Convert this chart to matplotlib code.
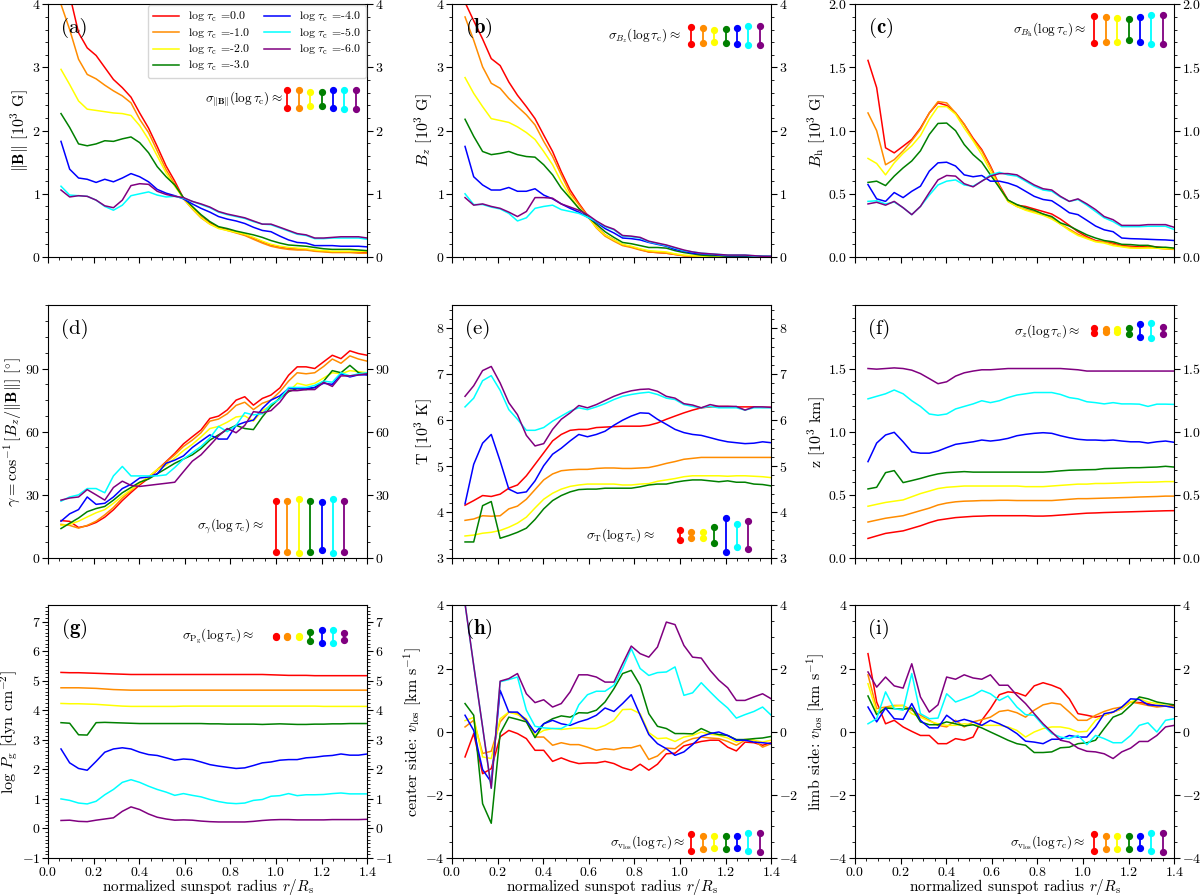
import matplotlib
matplotlib.use('Agg')
import matplotlib.pyplot as plt
from matplotlib.ticker import MultipleLocator

plt.rcParams['font.family'] = 'serif'
plt.rcParams['font.serif'] = ['cmr10', 'DejaVu Serif']
plt.rcParams['mathtext.fontset'] = 'cm'
plt.rcParams['axes.formatter.use_mathtext'] = True

# radial grid (normalized sunspot radius)
r = [0.057, 0.095, 0.134, 0.172, 0.211, 0.249, 0.287, 0.326, 0.364, 0.402,
     0.441, 0.479, 0.518, 0.556, 0.594, 0.633, 0.671, 0.710, 0.748, 0.786,
     0.825, 0.863, 0.901, 0.940, 0.978, 1.017, 1.055, 1.093, 1.132, 1.170,
     1.209, 1.247, 1.285, 1.324, 1.362, 1.400]

log_tau = ['0.0', '-1.0', '-2.0', '-3.0', '-4.0', '-5.0', '-6.0']
colors = ['red', 'darkorange', 'yellow', 'green', 'blue', 'cyan', 'purple']

# (a) |B| [10^3 G], one row per log tau
B_tot = [
    [4.9, 4.15, 3.55, 3.31, 3.19, 3.0, 2.81, 2.68, 2.53, 2.28, 2.04, 1.75, 1.44, 1.2, 0.93, 0.78, 0.64, 0.54,
     0.47, 0.43, 0.39, 0.35, 0.30, 0.24, 0.19, 0.16, 0.14, 0.13, 0.12, 0.10, 0.09, 0.08, 0.08, 0.08, 0.08, 0.07],
    [4.0, 3.6, 3.13, 2.89, 2.82, 2.72, 2.63, 2.55, 2.44, 2.18, 1.97, 1.68, 1.38, 1.15, 0.92, 0.76, 0.62, 0.52,
     0.46, 0.42, 0.38, 0.34, 0.28, 0.22, 0.17, 0.14, 0.12, 0.11, 0.11, 0.09, 0.08, 0.07, 0.07, 0.07, 0.06, 0.06],
    [2.97, 2.73, 2.47, 2.34, 2.32, 2.30, 2.28, 2.27, 2.24, 2.08, 1.86, 1.60, 1.33, 1.12, 0.93, 0.77, 0.63, 0.52,
     0.45, 0.42, 0.39, 0.36, 0.31, 0.25, 0.20, 0.17, 0.15, 0.14, 0.13, 0.11, 0.10, 0.09, 0.09, 0.09, 0.09, 0.09],
    [2.27, 2.05, 1.79, 1.76, 1.79, 1.84, 1.83, 1.87, 1.90, 1.81, 1.65, 1.43, 1.27, 1.14, 0.94, 0.80, 0.67, 0.56,
     0.48, 0.45, 0.41, 0.38, 0.35, 0.31, 0.26, 0.22, 0.19, 0.18, 0.17, 0.15, 0.13, 0.12, 0.12, 0.12, 0.11, 0.10],
    [1.83, 1.39, 1.25, 1.23, 1.18, 1.23, 1.19, 1.25, 1.32, 1.27, 1.19, 1.07, 1.01, 0.97, 0.92, 0.84, 0.77, 0.71,
     0.64, 0.60, 0.57, 0.53, 0.47, 0.42, 0.40, 0.33, 0.27, 0.23, 0.22, 0.18, 0.18, 0.18, 0.17, 0.17, 0.17, 0.16],
    [1.12, 0.98, 0.97, 0.96, 0.90, 0.80, 0.74, 0.82, 0.97, 1.00, 1.03, 0.98, 0.95, 0.96, 0.93, 0.88, 0.83, 0.78,
     0.71, 0.67, 0.64, 0.61, 0.56, 0.52, 0.51, 0.46, 0.41, 0.36, 0.34, 0.29, 0.29, 0.30, 0.30, 0.30, 0.30, 0.28],
    [1.06, 0.95, 0.97, 0.96, 0.90, 0.81, 0.78, 0.90, 1.13, 1.16, 1.15, 1.04, 0.99, 0.96, 0.94, 0.88, 0.84, 0.79,
     0.72, 0.68, 0.65, 0.62, 0.57, 0.52, 0.52, 0.47, 0.42, 0.37, 0.35, 0.30, 0.30, 0.31, 0.32, 0.32, 0.32, 0.30],
]

# (b) Bz [10^3 G]
B_z = [
    [4.03, 3.74, 3.45, 3.14, 3.03, 2.77, 2.56, 2.38, 2.19, 1.93, 1.67, 1.35, 1.06, 0.85, 0.66, 0.48, 0.35, 0.27,
     0.19, 0.16, 0.12, 0.08, 0.07, 0.06, 0.04, 0.02, 0.015, 0.01, 0.01, 0.01, 0.01, 0.005, 0.005, 0.005, 0.005, 0.005],
    [3.8, 3.43, 3.01, 2.75, 2.67, 2.51, 2.38, 2.25, 2.09, 1.83, 1.59, 1.30, 1.01, 0.83, 0.65, 0.46, 0.33, 0.25,
     0.18, 0.15, 0.11, 0.08, 0.07, 0.06, 0.04, 0.02, 0.01, 0.01, 0.01, 0.01, 0.01, 0.01, 0.005, 0.005, 0.005, 0.005],
    [2.84, 2.59, 2.38, 2.19, 2.16, 2.13, 2.06, 1.97, 1.86, 1.67, 1.46, 1.19, 0.96, 0.77, 0.64, 0.47, 0.35, 0.27,
     0.20, 0.17, 0.13, 0.10, 0.09, 0.08, 0.05, 0.03, 0.02, 0.01, 0.01, 0.01, 0.01, 0.01, 0.01, 0.005, 0.005, 0.005],
    [2.18, 1.91, 1.67, 1.62, 1.64, 1.67, 1.62, 1.59, 1.58, 1.46, 1.30, 1.09, 0.93, 0.77, 0.64, 0.52, 0.40, 0.31,
     0.23, 0.21, 0.18, 0.15, 0.15, 0.14, 0.10, 0.07, 0.05, 0.03, 0.02, 0.02, 0.01, 0.01, 0.01, 0.01, 0.01, 0.005],
    [1.75, 1.27, 1.14, 1.06, 1.06, 1.10, 1.04, 1.04, 1.08, 0.98, 0.92, 0.84, 0.77, 0.71, 0.63, 0.55, 0.45, 0.38,
     0.30, 0.29, 0.27, 0.23, 0.20, 0.17, 0.12, 0.09, 0.06, 0.05, 0.04, 0.03, 0.02, 0.02, 0.02, 0.02, 0.01, 0.01],
    [1.0, 0.83, 0.83, 0.79, 0.76, 0.69, 0.57, 0.62, 0.77, 0.80, 0.82, 0.75, 0.72, 0.69, 0.63, 0.56, 0.48, 0.43,
     0.33, 0.32, 0.30, 0.24, 0.21, 0.18, 0.14, 0.10, 0.08, 0.06, 0.05, 0.04, 0.03, 0.03, 0.03, 0.015, 0.01, 0.01],
    [0.94, 0.82, 0.84, 0.80, 0.77, 0.71, 0.64, 0.72, 0.94, 0.94, 0.93, 0.84, 0.79, 0.74, 0.67, 0.57, 0.49, 0.44,
     0.34, 0.33, 0.31, 0.25, 0.22, 0.19, 0.15, 0.11, 0.08, 0.06, 0.05, 0.04, 0.03, 0.03, 0.03, 0.02, 0.01, 0.01],
]

# (c) Bh [10^3 G]
B_h = [
    [1.556, 1.34, 0.864, 0.824, 0.877, 0.93, 1.02, 1.14, 1.22, 1.20, 1.14, 1.05, 0.94, 0.85, 0.72, 0.57, 0.45, 0.41,
     0.40, 0.38, 0.36, 0.34, 0.30, 0.25, 0.20, 0.16, 0.13, 0.12, 0.11, 0.09, 0.085, 0.08, 0.085, 0.08, 0.07, 0.066],
    [1.14, 1.0, 0.73, 0.77, 0.84, 0.92, 1.01, 1.14, 1.23, 1.22, 1.14, 1.05, 0.93, 0.84, 0.71, 0.56, 0.44, 0.40,
     0.375, 0.36, 0.34, 0.31, 0.26, 0.22, 0.18, 0.15, 0.125, 0.12, 0.10, 0.085, 0.077, 0.07, 0.077, 0.07, 0.063, 0.06],
    [0.78, 0.74, 0.65, 0.745, 0.82, 0.88, 0.96, 1.09, 1.19, 1.19, 1.13, 1.02, 0.92, 0.81, 0.68, 0.55, 0.44, 0.40,
     0.37, 0.35, 0.33, 0.30, 0.26, 0.21, 0.17, 0.145, 0.12, 0.11, 0.09, 0.08, 0.07, 0.07, 0.07, 0.07, 0.065, 0.065],
    [0.59, 0.60, 0.565, 0.64, 0.705, 0.76, 0.84, 0.97, 1.057, 1.06, 1.0, 0.89, 0.81, 0.75, 0.65, 0.55, 0.45, 0.415,
     0.39, 0.37, 0.34, 0.32, 0.27, 0.245, 0.21, 0.175, 0.15, 0.13, 0.12, 0.10, 0.098, 0.092, 0.092, 0.077, 0.077, 0.07],
    [0.573, 0.46, 0.44, 0.51, 0.47, 0.52, 0.56, 0.68, 0.745, 0.75, 0.72, 0.65, 0.635, 0.645, 0.60, 0.60, 0.585, 0.56,
     0.52, 0.48, 0.455, 0.445, 0.40, 0.35, 0.335, 0.29, 0.245, 0.215, 0.20, 0.15, 0.145, 0.143, 0.14, 0.137, 0.135, 0.13],
    [0.44, 0.445, 0.42, 0.435, 0.39, 0.335, 0.40, 0.49, 0.57, 0.60, 0.61, 0.57, 0.56, 0.60, 0.65, 0.67, 0.65, 0.64,
     0.60, 0.56, 0.53, 0.52, 0.475, 0.44, 0.455, 0.41, 0.36, 0.31, 0.28, 0.24, 0.24, 0.24, 0.243, 0.243, 0.243, 0.217],
    [0.42, 0.433, 0.41, 0.44, 0.39, 0.335, 0.40, 0.51, 0.61, 0.645, 0.64, 0.58, 0.555, 0.60, 0.64, 0.66, 0.66, 0.65,
     0.61, 0.57, 0.54, 0.53, 0.48, 0.44, 0.46, 0.42, 0.375, 0.32, 0.295, 0.25, 0.25, 0.25, 0.256, 0.256, 0.256, 0.235],
]

# (d) inclination gamma [deg]
gamma = [
    [17.8, 17.4, 14.5, 15.3, 16.9, 19.4, 22.9, 27.3, 31.1, 34.7, 37.9, 41.8, 45.8, 49.7, 54.2, 57.6, 60.8, 66.3,
     67.4, 70.3, 75.0, 76.6, 72.6, 75.8, 77.4, 80.8, 86.8, 90.8, 90.8, 90.0, 93.2, 96.3, 94.7, 98.4, 97.1, 96.3],
    [16.0, 15.5, 14.2, 15.5, 17.5, 20.5, 24.0, 28.5, 32.0, 35.5, 38.5, 42.0, 45.5, 49.0, 53.0, 56.0, 59.5, 65.0,
     66.0, 68.5, 72.5, 74.0, 70.5, 73.5, 75.0, 79.0, 84.0, 88.0, 87.5, 88.0, 91.0, 94.5, 92.5, 96.0, 94.5, 93.5],
    [15.5, 16.0, 17.5, 19.5, 21.5, 23.0, 26.0, 29.5, 32.5, 35.5, 38.5, 42.0, 44.0, 47.5, 51.0, 54.0, 57.5, 61.5,
     62.5, 64.5, 67.0, 67.5, 65.0, 70.0, 72.5, 76.0, 79.0, 83.0, 82.0, 83.0, 85.5, 88.0, 87.5, 89.0, 88.5, 88.0],
    [14.0, 16.5, 19.0, 22.0, 23.5, 24.5, 27.5, 31.0, 33.5, 36.0, 37.5, 40.0, 42.5, 45.0, 47.0, 49.0, 52.0, 56.0,
     58.5, 61.0, 63.0, 61.5, 61.0, 67.0, 72.0, 76.0, 79.0, 80.5, 80.0, 81.0, 84.0, 89.0, 88.0, 91.5, 88.0, 87.0],
    [17.5, 21.0, 23.0, 29.0, 25.5, 26.0, 29.0, 33.0, 35.0, 38.0, 38.5, 40.0, 45.0, 46.5, 48.5, 52.5, 55.5, 58.5,
     56.5, 56.5, 63.0, 64.5, 65.5, 71.0, 75.0, 77.0, 80.5, 80.5, 80.5, 81.0, 83.0, 82.5, 87.5, 86.0, 87.0, 87.0],
    [27.0, 29.0, 30.0, 33.0, 33.0, 31.0, 39.0, 43.5, 39.0, 39.0, 39.0, 39.0, 39.5, 43.0, 47.0, 50.0, 53.0, 57.0,
     62.5, 60.0, 63.0, 69.0, 68.0, 68.5, 73.0, 75.5, 81.0, 81.0, 81.0, 82.0, 84.0, 83.5, 88.0, 86.5, 87.5, 88.0],
    [27.5, 28.5, 29.0, 32.5, 30.0, 27.5, 33.5, 36.5, 34.5, 34.0, 34.5, 35.0, 35.5, 36.0, 41.0, 46.0, 49.0, 53.5,
     58.0, 61.5, 59.5, 63.0, 69.5, 69.0, 70.0, 74.0, 79.5, 79.5, 80.0, 80.0, 83.5, 81.5, 86.5, 86.5, 87.0, 87.5],
]

# (e) temperature [10^3 K]
temp = [
    [4.15, 4.25, 4.36, 4.34, 4.39, 4.52, 4.59, 4.79, 5.04, 5.29, 5.55, 5.69, 5.78, 5.80, 5.80, 5.84, 5.85, 5.86,
     5.87, 5.87, 5.87, 5.89, 5.94, 6.02, 6.09, 6.16, 6.22, 6.27, 6.29, 6.30, 6.30, 6.29, 6.29, 6.29, 6.28, 6.28],
    [3.82, 3.85, 3.92, 3.91, 3.92, 4.07, 4.13, 4.28, 4.49, 4.70, 4.83, 4.90, 4.92, 4.93, 4.93, 4.95, 4.96, 4.96,
     4.95, 4.95, 4.96, 4.97, 5.01, 5.06, 5.10, 5.15, 5.17, 5.19, 5.19, 5.19, 5.19, 5.19, 5.19, 5.19, 5.19, 5.19],
    [3.48, 3.50, 3.54, 3.56, 3.60, 3.67, 3.76, 3.89, 4.09, 4.28, 4.41, 4.50, 4.56, 4.59, 4.61, 4.61, 4.61, 4.61,
     4.59, 4.59, 4.61, 4.62, 4.67, 4.70, 4.73, 4.77, 4.79, 4.79, 4.79, 4.79, 4.78, 4.79, 4.79, 4.78, 4.77, 4.75],
    [3.35, 3.35, 4.14, 4.23, 3.43, 3.49, 3.56, 3.65, 3.84, 4.07, 4.25, 4.36, 4.44, 4.49, 4.50, 4.50, 4.52, 4.52,
     4.52, 4.52, 4.55, 4.59, 4.61, 4.61, 4.65, 4.68, 4.70, 4.70, 4.68, 4.66, 4.68, 4.65, 4.65, 4.61, 4.60, 4.57],
    [4.18, 5.04, 5.50, 5.69, 5.11, 4.50, 4.41, 4.44, 4.68, 5.01, 5.26, 5.39, 5.55, 5.69, 5.64, 5.69, 5.76, 5.89,
     6.00, 6.09, 6.16, 6.15, 6.02, 5.91, 5.80, 5.73, 5.69, 5.67, 5.62, 5.57, 5.53, 5.51, 5.49, 5.50, 5.53, 5.51],
    [6.29, 6.48, 6.86, 6.97, 6.65, 6.23, 6.02, 5.78, 5.78, 5.84, 5.98, 6.09, 6.20, 6.27, 6.23, 6.29, 6.36, 6.45,
     6.52, 6.56, 6.59, 6.61, 6.56, 6.48, 6.45, 6.34, 6.30, 6.27, 6.30, 6.27, 6.27, 6.27, 6.22, 6.27, 6.27, 6.27],
    [6.52, 6.75, 7.08, 7.17, 6.81, 6.38, 6.12, 5.67, 5.44, 5.49, 5.80, 6.02, 6.16, 6.32, 6.27, 6.34, 6.43, 6.52,
     6.59, 6.64, 6.67, 6.68, 6.63, 6.52, 6.48, 6.36, 6.33, 6.27, 6.34, 6.30, 6.30, 6.30, 6.22, 6.29, 6.29, 6.28],
]

# (f) geometrical height z [10^3 km]
height = [
    [0.155, 0.175, 0.195, 0.205, 0.215, 0.235, 0.255, 0.28, 0.30, 0.31, 0.32, 0.325, 0.33, 0.332, 0.335, 0.335,
     0.335, 0.335, 0.335, 0.332, 0.332, 0.335, 0.34, 0.345, 0.35, 0.355, 0.357, 0.36, 0.362, 0.364, 0.366, 0.368,
     0.37, 0.372, 0.374, 0.375],
    [0.285, 0.30, 0.315, 0.325, 0.335, 0.355, 0.375, 0.395, 0.42, 0.435, 0.445, 0.45, 0.452, 0.455, 0.455, 0.457,
     0.457, 0.455, 0.455, 0.455, 0.455, 0.455, 0.46, 0.465, 0.47, 0.47, 0.472, 0.474, 0.476, 0.478, 0.48, 0.483,
     0.485, 0.487, 0.49, 0.49],
    [0.41, 0.425, 0.44, 0.45, 0.46, 0.485, 0.51, 0.53, 0.55, 0.56, 0.565, 0.57, 0.57, 0.57, 0.57, 0.57, 0.57,
     0.57, 0.565, 0.565, 0.565, 0.57, 0.575, 0.58, 0.585, 0.585, 0.59, 0.59, 0.592, 0.595, 0.598, 0.60, 0.60,
     0.602, 0.605, 0.605],
    [0.547, 0.56, 0.676, 0.692, 0.597, 0.613, 0.63, 0.65, 0.666, 0.676, 0.68, 0.684, 0.68, 0.68, 0.68, 0.68, 0.68,
     0.68, 0.68, 0.68, 0.68, 0.684, 0.69, 0.695, 0.697, 0.699, 0.70, 0.708, 0.71, 0.712, 0.715, 0.715, 0.718,
     0.72, 0.726, 0.72],
    [0.763, 0.91, 0.974, 0.995, 0.92, 0.84, 0.83, 0.83, 0.847, 0.874, 0.90, 0.91, 0.92, 0.934, 0.926, 0.934,
     0.947, 0.968, 0.979, 0.987, 0.992, 0.987, 0.968, 0.952, 0.94, 0.934, 0.934, 0.93, 0.934, 0.926, 0.92, 0.92,
     0.91, 0.92, 0.926, 0.916],
    [1.26, 1.28, 1.30, 1.33, 1.30, 1.245, 1.20, 1.14, 1.13, 1.14, 1.18, 1.20, 1.22, 1.245, 1.23, 1.245, 1.27,
     1.29, 1.30, 1.31, 1.31, 1.31, 1.295, 1.27, 1.26, 1.237, 1.23, 1.22, 1.23, 1.22, 1.22, 1.218, 1.20, 1.218,
     1.218, 1.216],
    [1.50, 1.495, 1.50, 1.505, 1.50, 1.487, 1.46, 1.42, 1.38, 1.395, 1.44, 1.466, 1.48, 1.49, 1.49, 1.495, 1.50,
     1.50, 1.50, 1.50, 1.50, 1.50, 1.50, 1.495, 1.49, 1.48, 1.48, 1.48, 1.48, 1.48, 1.48, 1.48, 1.48, 1.48, 1.48,
     1.48],
]

# (g) log Pg [dyn cm^-2]
log_pg = [
    [5.28, 5.27, 5.27, 5.26, 5.25, 5.24, 5.23, 5.22, 5.21, 5.21, 5.21, 5.21, 5.21, 5.21, 5.21, 5.21, 5.21, 5.21,
     5.21, 5.21, 5.21, 5.21, 5.21, 5.21, 5.20, 5.19, 5.18, 5.18, 5.18, 5.17, 5.17, 5.17, 5.17, 5.17, 5.17, 5.17],
    [4.76, 4.76, 4.76, 4.75, 4.74, 4.72, 4.70, 4.69, 4.68, 4.68, 4.68, 4.68, 4.68, 4.68, 4.68, 4.68, 4.68, 4.68,
     4.68, 4.68, 4.68, 4.68, 4.68, 4.68, 4.68, 4.68, 4.68, 4.68, 4.68, 4.68, 4.68, 4.68, 4.68, 4.68, 4.68, 4.68],
    [4.23, 4.22, 4.22, 4.21, 4.20, 4.18, 4.16, 4.14, 4.13, 4.13, 4.13, 4.13, 4.13, 4.13, 4.14, 4.14, 4.14, 4.14,
     4.14, 4.14, 4.14, 4.14, 4.14, 4.14, 4.14, 4.14, 4.14, 4.14, 4.14, 4.14, 4.13, 4.13, 4.13, 4.13, 4.13, 4.13],
    [3.58, 3.56, 3.17, 3.16, 3.58, 3.59, 3.58, 3.57, 3.56, 3.55, 3.55, 3.55, 3.55, 3.55, 3.55, 3.55, 3.55, 3.54,
     3.54, 3.53, 3.53, 3.53, 3.53, 3.52, 3.53, 3.54, 3.53, 3.52, 3.52, 3.53, 3.53, 3.54, 3.54, 3.55, 3.55, 3.55],
    [2.69, 2.22, 2.03, 1.97, 2.27, 2.58, 2.69, 2.73, 2.69, 2.58, 2.50, 2.47, 2.39, 2.31, 2.35, 2.33, 2.25, 2.16,
     2.11, 2.07, 2.03, 2.05, 2.13, 2.22, 2.25, 2.31, 2.33, 2.33, 2.39, 2.41, 2.45, 2.47, 2.52, 2.48, 2.48, 2.52],
    [1.00, 0.95, 0.86, 0.83, 0.92, 1.14, 1.32, 1.56, 1.65, 1.56, 1.43, 1.32, 1.23, 1.12, 1.18, 1.12, 1.07, 0.98,
     0.91, 0.86, 0.84, 0.86, 0.95, 0.98, 1.09, 1.11, 1.18, 1.11, 1.14, 1.14, 1.15, 1.18, 1.20, 1.17, 1.17, 1.17],
    [0.27, 0.28, 0.24, 0.23, 0.28, 0.32, 0.36, 0.58, 0.73, 0.64, 0.49, 0.38, 0.32, 0.28, 0.29, 0.28, 0.25, 0.23,
     0.22, 0.22, 0.22, 0.22, 0.24, 0.27, 0.29, 0.30, 0.30, 0.29, 0.29, 0.29, 0.29, 0.30, 0.30, 0.30, 0.30, 0.31],
]

# (h) center side v_los [km/s]
v_center = [
    [-0.8, -0.06, -1.33, -1.17, -0.16, 0.04, -0.06, -0.22, -0.59, -0.59, -0.94, -0.83, -0.94, -1.01, -0.99, -0.99,
     -0.94, -1.01, -1.14, -1.22, -1.03, -1.22, -1.03, -0.70, -0.68, -0.45, -0.38, -0.31, -0.27, -0.27, -0.49,
     -0.61, -0.33, -0.35, -0.43, -0.35],
    [0.15, 0.36, -0.69, -0.62, 0.31, 0.62, 0.57, 0.33, -0.17, -0.17, -0.43, -0.35, -0.41, -0.41, -0.49, -0.59,
     -0.54, -0.57, -0.51, -0.51, -0.43, -0.88, -0.77, -0.52, -0.54, -0.33, -0.22, -0.17, -0.20, -0.22, -0.31,
     -0.43, -0.27, -0.27, -0.49, -0.38],
    [0.35, 0.45, -0.80, -0.85, 0.41, 0.62, 0.54, 0.41, -0.12, 0.04, 0.10, 0.07, 0.10, 0.12, 0.10, 0.10, 0.20,
     0.36, 0.70, 0.71, 0.57, -0.03, -0.22, -0.20, -0.31, -0.17, -0.12, -0.01, -0.08, -0.12, -0.20, -0.33, -0.24,
     -0.27, -0.33, -0.27],
    [0.89, 0.52, -2.28, -2.90, -0.05, 0.46, 0.39, 0.31, -0.19, 0.25, 0.41, 0.50, 0.46, 0.60, 0.59, 0.68, 0.94,
     1.36, 1.84, 1.94, 1.47, 0.57, 0.17, 0.10, -0.06, -0.06, -0.07, 0.10, -0.03, -0.09, -0.12, -0.25, -0.25,
     -0.22, -0.20, -0.15],
    [0.52, 0.04, -1.20, -1.60, 1.31, 0.62, 0.62, 0.36, -0.03, 0.25, 0.36, 0.25, 0.20, 0.31, 0.39, 0.52, 0.75,
     0.64, 0.89, 1.17, 0.52, -0.09, -0.38, -0.54, -0.75, -0.64, -0.41, -0.15, -0.06, -0.01, -0.12, -0.27, -0.27,
     -0.33, -0.35, -0.38],
    [4.05, 2.1, 0.15, -1.79, 1.58, 1.65, 1.73, 0.68, 0.17, 0.12, 0.10, 0.10, 0.25, 0.85, 1.17, 1.28, 1.28, 1.47,
     2.00, 2.63, 2.00, 1.78, 1.87, 1.89, 2.05, 1.15, 1.23, 1.55, 1.26, 0.99, 0.75, 0.43, 0.54, 0.64, 0.78, 0.52],
    [4.05, 2.1, 0.15, -1.79, 1.60, 1.68, 1.84, 1.20, 0.92, 1.01, 0.78, 0.89, 1.26, 1.80, 1.80, 1.73, 1.57, 1.57,
     2.15, 2.71, 2.47, 2.36, 2.68, 3.47, 3.39, 2.73, 2.36, 2.33, 1.94, 1.63, 1.39, 0.99, 0.99, 1.10, 1.20, 1.04],
]

# (i) limb side v_los [km/s]
v_limb = [
    [2.47, 0.94, 0.25, 0.36, 0.15, 0.01, -0.12, -0.12, -0.38, -0.38, -0.22, -0.27, -0.17, 0.36, 0.73, 1.17, 1.26,
     1.23, 1.13, 1.45, 1.55, 1.47, 1.36, 1.04, 0.57, 0.52, 0.46, 0.52, 0.62, 0.73, 0.94, 0.92, 0.89, 0.81, 0.81,
     0.83],
    [1.80, 0.73, 0.78, 0.83, 0.83, 0.68, 0.52, 0.36, 0.20, 0.15, 0.36, 0.15, 0.31, 0.38, 0.46, 0.64, 0.68, 0.60,
     0.46, 0.68, 0.85, 0.91, 0.87, 0.62, 0.36, 0.36, 0.52, 0.64, 0.73, 0.78, 0.94, 0.89, 0.83, 0.78, 0.81, 0.78],
    [1.52, 0.62, 0.73, 0.81, 0.83, 0.57, 0.46, 0.33, 0.25, 0.20, 0.20, 0.25, 0.22, 0.20, 0.20, 0.20, 0.15, 0.04,
     -0.17, -0.01, 0.10, 0.15, 0.15, 0.10, -0.01, 0.01, 0.36, 0.52, 0.62, 0.73, 0.94, 1.04, 0.94, 0.89, 0.83, 0.78],
    [1.13, 0.54, 0.75, 0.73, 0.71, 0.75, 0.31, 0.22, 0.22, 0.31, 0.25, 0.18, 0.22, 0.12, -0.01, -0.14, -0.27,
     -0.38, -0.43, -0.66, -0.66, -0.64, -0.51, -0.49, -0.38, -0.35, -0.27, 0.10, 0.46, 0.57, 0.83, 1.10, 1.04,
     0.94, 0.89, 0.85],
    [0.78, 0.31, 0.75, 0.41, 0.39, 0.89, 0.36, 0.12, 0.12, 0.52, 0.31, 0.39, 0.31, 0.20, 0.36, 0.25, 0.12, -0.06,
     -0.30, -0.33, -0.38, -0.24, -0.24, -0.12, -0.17, -0.17, 0.15, 0.57, 0.62, 0.78, 1.04, 1.02, 0.85, 0.83, 0.81,
     0.76],
    [0.25, 0.41, 1.26, 0.73, 0.68, 1.84, 0.57, 0.41, 0.43, 1.20, 0.94, 1.04, 1.15, 1.31, 1.20, 0.99, 1.13, 0.78,
     0.54, 0.52, 0.20, -0.06, -0.17, -0.22, -0.12, -0.41, -0.12, -0.22, -0.35, -0.35, -0.12, 0.20, 0.28, -0.01,
     0.36, 0.41],
    [1.89, 1.41, 1.73, 1.45, 1.38, 2.15, 1.10, 0.62, 0.85, 1.73, 1.66, 1.80, 1.70, 1.66, 1.80, 1.47, 1.47, 1.15,
     0.89, 0.57, 0.25, -0.01, -0.27, -0.33, -0.52, -0.62, -0.64, -0.70, -0.85, -0.64, -0.52, -0.31, -0.31, -0.12,
     0.15, 0.20],
]

# typical uncertainties per log tau (half length of the bars)
sig_btot = [0.14, 0.14, 0.115, 0.115, 0.14, 0.15, 0.15]
sig_bz = [0.135, 0.12, 0.1, 0.105, 0.125, 0.15, 0.15]
sig_bh = [0.11, 0.10, 0.095, 0.083, 0.099, 0.112, 0.112]
sig_gamma = [12.0, 12.0, 12.8, 12.0, 11.4, 12.8, 12.0]
sig_temp = [0.1, 0.065, 0.065, 0.18, 0.37, 0.25, 0.30]
sig_height = [0.017, 0.013, 0.012, 0.024, 0.053, 0.062, 0.029]
sig_pg = [0.01, 0.01, 0.01, 0.14, 0.226, 0.226, 0.113]
sig_vc = [0.27, 0.21, 0.19, 0.2, 0.19, 0.29, 0.3]
sig_vl = [0.264, 0.2, 0.2, 0.2, 0.185, 0.29, 0.3]

xlab = r'normalized sunspot radius $r/R_{\rm s}$'
sig_end = r'(\log\tau_{\rm c})\approx$'

# data, ylabel, ylim, major, minor, yticks, sigma, sigma-label, bar x0, bar yc, text x
panels = [
    (B_tot, r'$\Vert\mathbf{B}\Vert$ [10$^3$ G]', (0, 4), 1, 0.2, None,
     sig_btot, r'$\sigma_{\Vert\mathbf{B}\Vert}' + sig_end, 1.05, 2.5, 1.03, '(a)'),
    (B_z, r'$B_z$ [10$^3$ G]', (0, 4), 1, 0.2, None,
     sig_bz, r'$\sigma_{B_z}' + sig_end, 1.05, 3.5, 1.0, r'$\mathbf{(b)}$'),
    (B_h, r'$B_{\rm h}$ [10$^3$ G]', (0, 2), 0.5, 0.1, None,
     sig_bh, r'$\sigma_{B_{\rm h}}' + sig_end, 1.05, 1.8, 1.012, r'$\mathbf{(c)}$'),
    (gamma, r'$\gamma=\cos^{-1}[B_z/\Vert\mathbf{B}\Vert]$ [$^{\circ}$]', (0, 120), 30, 7.5, [0, 30, 60, 90],
     sig_gamma, r'$\sigma_{\gamma}' + sig_end, 1.0, 15, 0.945, '(d)'),
    (temp, r'T [10$^3$ K]', (3, 8.5), 1, 0.2, [3, 4, 5, 6, 7, 8],
     sig_temp, r'$\sigma_{\rm T}' + sig_end, 1.0, 3.5, 0.89, '(e)'),
    (height, r'z [10$^3$ km]', (0, 2), 0.5, 0.1, [0, 0.5, 1.0, 1.5],
     sig_height, r'$\sigma_{z}' + sig_end, 1.05, 1.8, 0.987, '(f)'),
    (log_pg, r'$\log\,P_{\rm g}$ [dyn cm$^{-2}$]', (-1, 7.55), 1, 0.125, [-1, 0, 1, 2, 3, 4, 5, 6, 7],
     sig_pg, r'$\sigma_{\rm P_g}' + sig_end, 1.0, 6.5, 0.905, r'$\mathbf{(g)}$'),
    (v_center, r'center side: $v_{\rm los}$ [km s$^{-1}$]', (-4, 4), 2, 0.5, None,
     sig_vc, r'$\sigma_{\rm v_{los}}' + sig_end, 1.05, -3.5, 1.022, r'$\mathbf{(h)}$'),
    (v_limb, r'limb side: $v_{\rm los}$ [km s$^{-1}$]', (-4, 4), 2, 0.5, None,
     sig_vl, r'$\sigma_{\rm v_{los}}' + sig_end, 1.05, -3.5, 1.01, '(i)'),
]

fig = plt.figure(figsize=(12, 8.96), dpi=100)
lefts = [0.04, 0.3767, 0.7125]
bottoms = [0.7132, 0.3772, 0.0424]

for n, p in enumerate(panels):
    data, ylabel, ylim, major, minor, yticks, sig, siglab, x0, yc, xt, tag = p
    row, col = divmod(n, 3)
    ax = fig.add_axes([lefts[col], bottoms[row], 0.266, 0.282])

    for i in range(7):
        ax.plot(r, data[i], color=colors[i], lw=1.1,
                label=r'$\log\,\tau_{\rm c}$ =' + log_tau[i])

    # uncertainty bars
    for i in range(7):
        xb = x0 + 0.05 * i
        ax.plot([xb, xb], [yc - sig[i], yc + sig[i]], color=colors[i], lw=1.3,
                marker='o', ms=4.2)
    ax.text(xt, yc, siglab, ha='right', va='center', fontsize=9.5)

    ax.text(0.04, 0.905, tag, transform=ax.transAxes, fontsize=15,
            ha='left', va='center')

    ax.set_xlim(0, 1.4)
    ax.set_ylim(*ylim)
    ax.xaxis.set_major_locator(MultipleLocator(0.2))
    ax.xaxis.set_minor_locator(MultipleLocator(0.05))
    if yticks is not None:
        ax.set_yticks(yticks)
    else:
        ax.yaxis.set_major_locator(MultipleLocator(major))
    ax.yaxis.set_minor_locator(MultipleLocator(minor))
    ax.tick_params(which='both', direction='out', right=True, labelright=True,
                   labelsize=10, pad=1.5)
    ax.tick_params(which='major', length=4)
    ax.tick_params(which='minor', length=2.5)
    ax.set_ylabel(ylabel, fontsize=11.5, labelpad=0.5)
    if row == 2:
        ax.set_xlabel(xlab, fontsize=11, labelpad=-1.5)
    else:
        ax.set_xticklabels([])

    if n == 0:
        ax.legend(loc='upper right', ncol=2, fontsize=8.5, borderaxespad=0.1,
                  handlelength=2.2, columnspacing=1.2, labelspacing=0.2)

fig.savefig('out.png', dpi=100)
